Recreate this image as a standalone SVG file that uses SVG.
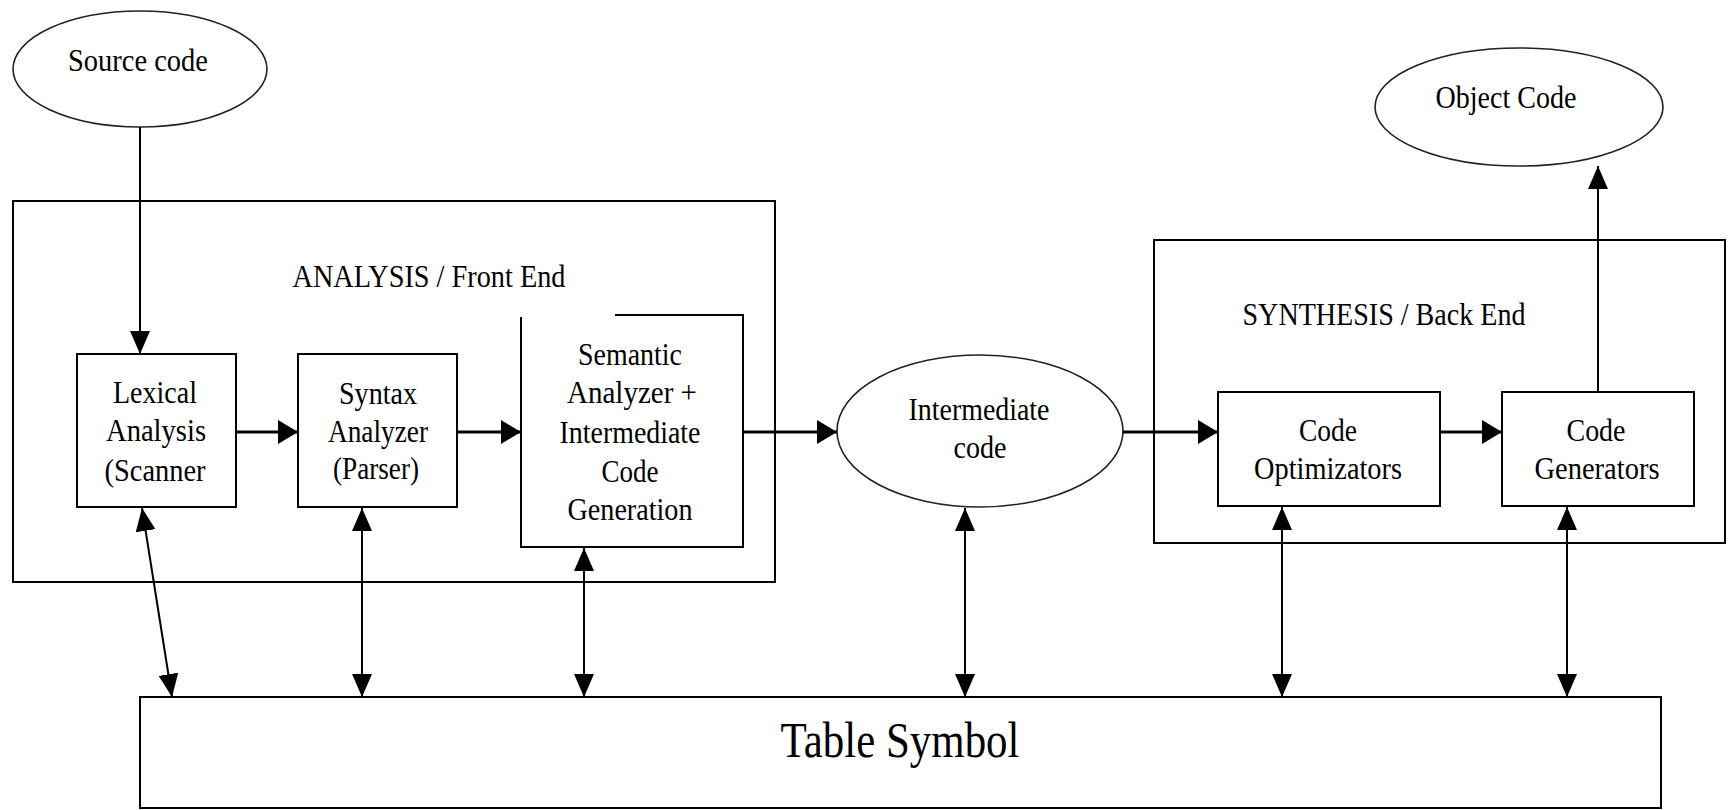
<svg xmlns="http://www.w3.org/2000/svg" width="1729" height="810" viewBox="0 0 1729 810">
  <style>
    .box { fill: none; stroke: #000; stroke-width: 2; }
    .oval { fill: none; stroke: #222; stroke-width: 1.6; }
    .lbl { font-family: "Liberation Serif", "Times New Roman", serif; font-size: 31px; fill: #000; text-anchor: middle; }
    .big { font-size: 50px; }
    .flow { stroke: #000; stroke-width: 3; fill: none; marker-end: url(#head); }
    .link { stroke: #000; stroke-width: 2; fill: none; marker-start: url(#head2); marker-end: url(#head2); }
    .feed { stroke: #000; stroke-width: 2; fill: none; marker-end: url(#head2); }
  </style>
  <defs>
    <marker id="head" viewBox="0 0 20 24" refX="20" refY="12" markerWidth="20" markerHeight="24" markerUnits="userSpaceOnUse" orient="auto-start-reverse">
      <path d="M0,0 L20,12 L0,24 z" fill="#000"/>
    </marker>
    <marker id="head2" viewBox="0 0 23 20" refX="23" refY="10" markerWidth="23" markerHeight="20" markerUnits="userSpaceOnUse" orient="auto-start-reverse">
      <path d="M0,0 L23,10 L0,20 z" fill="#000"/>
    </marker>
  </defs>
  <rect width="1729" height="810" fill="#fff"/>

  <!-- front end container -->
  <g id="analysis">
    <rect class="box" x="13" y="201" width="762" height="381"/>
    <text class="lbl" x="429" y="287" textLength="273" lengthAdjust="spacingAndGlyphs">ANALYSIS / Front End</text>
  </g>

  <!-- back end container -->
  <g id="synthesis">
    <rect class="box" x="1154" y="240" width="571" height="303"/>
    <text class="lbl" x="1384" y="325" textLength="283" lengthAdjust="spacingAndGlyphs">SYNTHESIS / Back End</text>
  </g>

  <g id="source">
    <ellipse class="oval" cx="140" cy="69" rx="127" ry="58"/>
    <text class="lbl" x="138" y="71" textLength="140" lengthAdjust="spacingAndGlyphs">Source code</text>
  </g>

  <g id="lexical">
    <rect class="box" x="77" y="354" width="159" height="153"/>
    <text class="lbl" x="155" y="403" textLength="84" lengthAdjust="spacingAndGlyphs">Lexical</text>
    <text class="lbl" x="156" y="441" textLength="100" lengthAdjust="spacingAndGlyphs">Analysis</text>
    <text class="lbl" x="155" y="481" textLength="101" lengthAdjust="spacingAndGlyphs">(Scanner</text>
  </g>

  <g id="syntax">
    <rect class="box" x="298" y="354" width="159" height="153"/>
    <text class="lbl" x="378" y="404" textLength="78" lengthAdjust="spacingAndGlyphs">Syntax</text>
    <text class="lbl" x="378" y="442" textLength="100" lengthAdjust="spacingAndGlyphs">Analyzer</text>
    <text class="lbl" x="376" y="479" textLength="86" lengthAdjust="spacingAndGlyphs">(Parser)</text>
  </g>

  <g id="semantic">
    <path class="box" d="M521,317 L521,547 L743,547 L743,315 L615,315"/>
    <text class="lbl" x="630" y="365" textLength="104" lengthAdjust="spacingAndGlyphs">Semantic</text>
    <text class="lbl" x="632" y="403" textLength="130" lengthAdjust="spacingAndGlyphs">Analyzer  +</text>
    <text class="lbl" x="630" y="443" textLength="141" lengthAdjust="spacingAndGlyphs">Intermediate</text>
    <text class="lbl" x="630" y="482" textLength="57" lengthAdjust="spacingAndGlyphs">Code</text>
    <text class="lbl" x="630" y="520" textLength="125" lengthAdjust="spacingAndGlyphs">Generation</text>
  </g>

  <g id="intermediate">
    <ellipse class="oval" cx="980" cy="431" rx="143" ry="76"/>
    <text class="lbl" x="979" y="420" textLength="141" lengthAdjust="spacingAndGlyphs">Intermediate</text>
    <text class="lbl" x="980" y="458" textLength="53" lengthAdjust="spacingAndGlyphs">code</text>
  </g>

  <g id="optimizer">
    <rect class="box" x="1218" y="392" width="222" height="114"/>
    <text class="lbl" x="1328" y="441" textLength="58" lengthAdjust="spacingAndGlyphs">Code</text>
    <text class="lbl" x="1328" y="479" textLength="148" lengthAdjust="spacingAndGlyphs">Optimizators</text>
  </g>

  <g id="generator">
    <rect class="box" x="1502" y="392" width="192" height="114"/>
    <text class="lbl" x="1596" y="441" textLength="59" lengthAdjust="spacingAndGlyphs">Code</text>
    <text class="lbl" x="1597" y="479" textLength="125" lengthAdjust="spacingAndGlyphs">Generators</text>
  </g>

  <g id="object">
    <ellipse class="oval" cx="1519" cy="107" rx="144" ry="59"/>
    <text class="lbl" x="1506" y="108" textLength="141" lengthAdjust="spacingAndGlyphs">Object Code</text>
  </g>

  <g id="table">
    <rect class="box" x="140" y="697" width="1521" height="111"/>
    <text class="lbl big" x="900" y="757" textLength="239" lengthAdjust="spacingAndGlyphs">Table Symbol</text>
  </g>

  <!-- connectors -->
  <g id="connectors">
    <line class="feed" x1="140" y1="127" x2="140" y2="354"/>
    <line class="flow" x1="236" y1="432" x2="298" y2="432"/>
    <line class="flow" x1="457" y1="432" x2="521" y2="432"/>
    <line class="flow" x1="743" y1="432" x2="837" y2="432"/>
    <line class="flow" x1="1123" y1="432" x2="1218" y2="432"/>
    <line class="flow" x1="1440" y1="432" x2="1502" y2="432"/>
    <line class="feed" x1="1598" y1="392" x2="1598" y2="166"/>
    <line class="link" x1="142" y1="508" x2="172" y2="697"/>
    <line class="link" x1="362" y1="508" x2="362" y2="697"/>
    <line class="link" x1="584" y1="548" x2="584" y2="697"/>
    <line class="link" x1="965" y1="508" x2="965" y2="697"/>
    <line class="link" x1="1282" y1="507" x2="1282" y2="697"/>
    <line class="link" x1="1567" y1="507" x2="1567" y2="697"/>
  </g>
</svg>
